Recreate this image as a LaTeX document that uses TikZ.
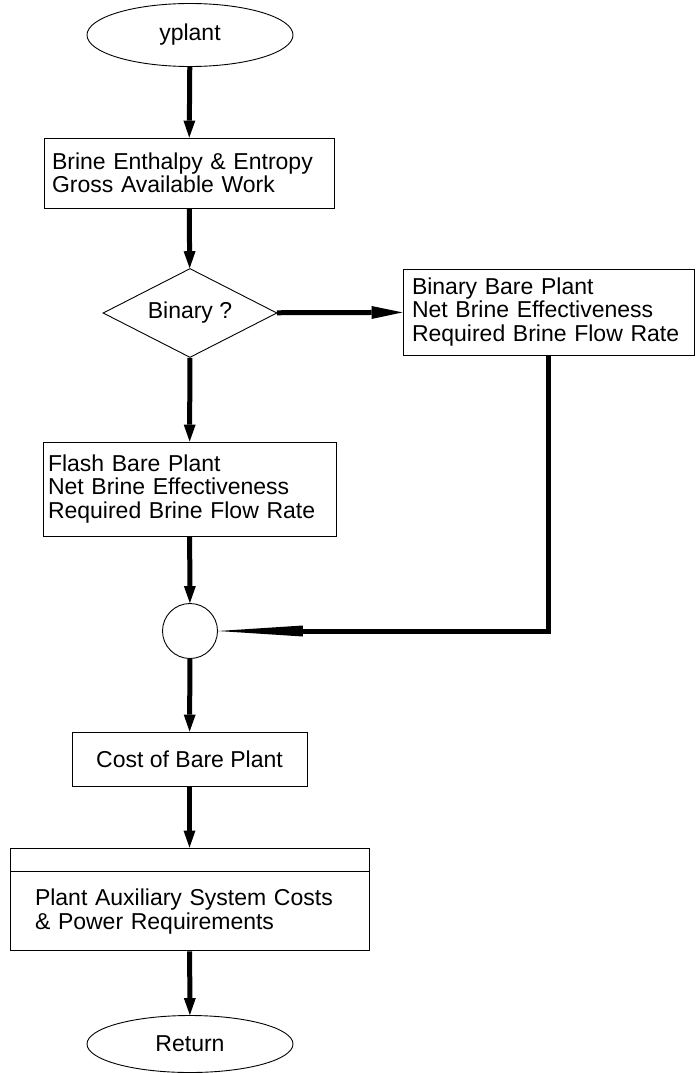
\documentclass[tikz,border=0pt]{standalone}
\usepackage{fontspec}
\setmainfont{Liberation Sans}
\usepackage{tikz}
\usetikzlibrary{positioning}
\usetikzlibrary{shapes.geometric,arrows.meta}

\tikzset{
	chart/.style={draw, line width=0.9pt, inner sep=0pt,
		font=\fontsize{23}{23.5}\selectfont},
	stepbox/.style={chart, rectangle, align=left},
	flow/.style={line width=5pt, -{Triangle[length=17pt,width=12pt,line width=0pt]}},
}

\begin{document}
\begin{tikzpicture}[x=1pt, y=-1pt]

\useasboundingbox (0,0) rectangle (696,1073);

% Start
\node [chart, ellipse,
	minimum width=206pt,
	minimum height=63pt
] (yplant) at (190, 35) {yplant};

% Brine enthalpy
\node [stepbox,
	minimum width=290pt,
	minimum height=70pt,
	text width=274pt
] (brine_enthalpy) at (189, 173) {
Brine Enthalpy \& Entropy\\
Gross Available Work
};

% Binary decision
\node [chart, diamond,
	minimum width=174pt,
	minimum height=89pt,
	shape aspect=1.95
] (binary) at (190, 313) {Binary ?};

% Binary bare plant
\node [stepbox,
	minimum width=291pt,
	minimum height=86pt,
	text width=273pt
] (binary_plant) at (548.5, 312) {
Binary Bare Plant\\
Net Brine Effectiveness\\
Required Brine Flow Rate
};

% Flash bare plant
\node [stepbox,
	minimum width=293pt,
	minimum height=94pt,
	text width=283pt
] (flash_plant) at (189.5, 489) {
Flash Bare Plant\\
Net Brine Effectiveness\\
Required Brine Flow Rate
};

% Junction
\node [chart, circle,
	minimum size=55pt
] (junction) at (190, 631) {};

% Cost of bare plant
\node [stepbox,
	minimum width=235pt,
	minimum height=54pt
] (bare_cost) at (189.5, 759) {Cost of Bare Plant};

% Auxiliary systems
\node [stepbox,
	minimum width=359pt,
	minimum height=23pt
] (aux_head) at (189.5, 859.5) {};
\node [stepbox,
	minimum width=359pt,
	minimum height=79pt,
	text width=309pt,
	below=0pt of aux_head
] (aux_costs) {
Plant Auxiliary System Costs\\
\& Power Requirements
};

% Return
\node [chart, ellipse,
	minimum width=206pt,
	minimum height=57pt
] (return) at (190, 1044) {Return};

% Arrows
\draw[flow] (yplant) -- (brine_enthalpy);
\draw[flow] (brine_enthalpy) -- (binary);
\draw[line width=5pt, -{Triangle[length=31pt,width=13pt,line width=0pt]}] (binary) -- (binary_plant);
\draw[flow] (binary) -- (flash_plant);
\draw[flow] (flash_plant) -- (junction);
\draw[line width=5pt, -{Triangle[length=85pt,width=11pt,line width=0pt]}] (binary_plant.south) |- (junction.east);
\draw[flow] (junction) -- (bare_cost);
\draw[flow] (bare_cost) -- (aux_head);
\draw[flow] (aux_costs) -- (return);

\end{tikzpicture}
\end{document}
